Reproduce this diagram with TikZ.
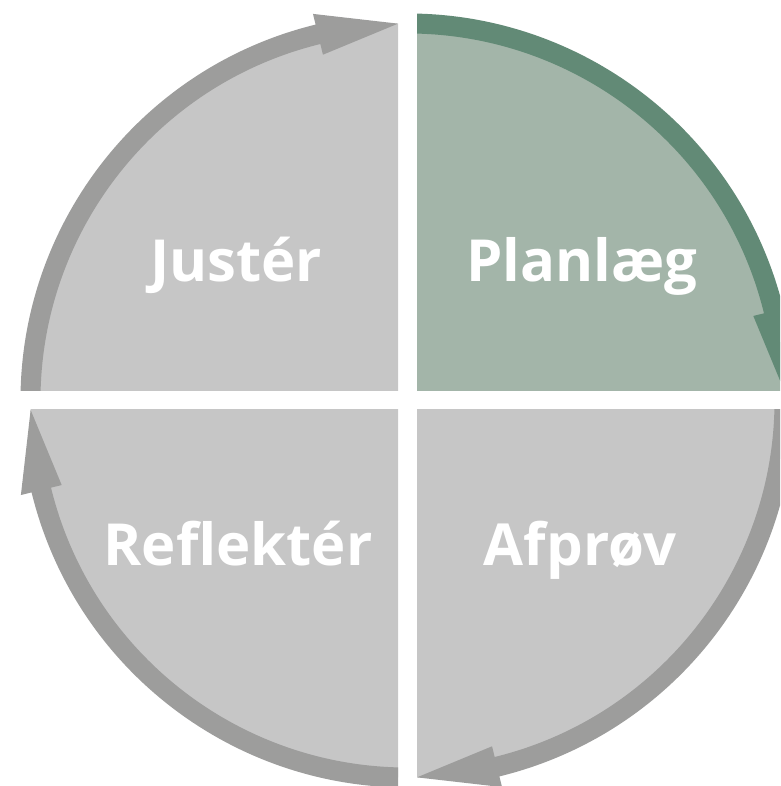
\documentclass[tikz,border=0pt]{standalone}
\usepackage{fontspec}
\setmainfont{Open Sans}
\definecolor{qfill}{RGB}{198,198,198}
\definecolor{qband}{RGB}{157,157,156}
\definecolor{gfill}{RGB}{163,181,169}
\definecolor{gband}{RGB}{98,138,118}
\newcommand\quadarrow[4]{%
  \fill[#4] (#1:387) arc[start angle=#1,end angle=#2,radius=387] -- (#2:398) -- (#3:377) -- (#2:356) -- (#2:367) arc[start angle=#2,end angle=#1,radius=367] -- cycle;}
\begin{document}
\begin{tikzpicture}[x=1pt,y=1pt,
  lbl/.style={text=white,font=\bfseries\fontsize{58}{62}\selectfont,anchor=base,inner sep=0pt}]
\useasboundingbox (-407.5,-385.5) rectangle (372.5,400.5);
\clip (-407.5,-385.5) rectangle (372.5,400.5);
% upper left
\begin{scope}
  \clip (-500,9.5) rectangle (-9.5,500);
  \fill[qfill] (0,0) circle[radius=377];
  \quadarrow{185}{103.74}{91.44}{qband}
\end{scope}
% upper right
\begin{scope}
  \clip (9.5,9.5) rectangle (500,500);
  \fill[gfill] (0,0) circle[radius=377];
  \quadarrow{95}{13.74}{1.44}{gband}
\end{scope}
% lower right
\begin{scope}
  \clip (9.5,-500) rectangle (500,-9.5);
  \fill[qfill] (0,0) circle[radius=377];
  \quadarrow{5}{-76.26}{-88.56}{qband}
\end{scope}
% lower left
\begin{scope}
  \clip (-500,-500) rectangle (-9.5,-9.5);
  \fill[qfill] (0,0) circle[radius=377];
  \quadarrow{-85}{-166.26}{-178.56}{qband}
\end{scope}
\node[lbl] (juster) at (-171.5,118.5) {Justér};
\node[lbl] (planlaeg) at (174.5,119) {Planlæg};
\node[lbl] (reflekter) at (-169.5,-164.5) {Reflektér};
\node[lbl] (afproev) at (172.5,-164.5) {Afprøv};
\end{tikzpicture}
\end{document}
